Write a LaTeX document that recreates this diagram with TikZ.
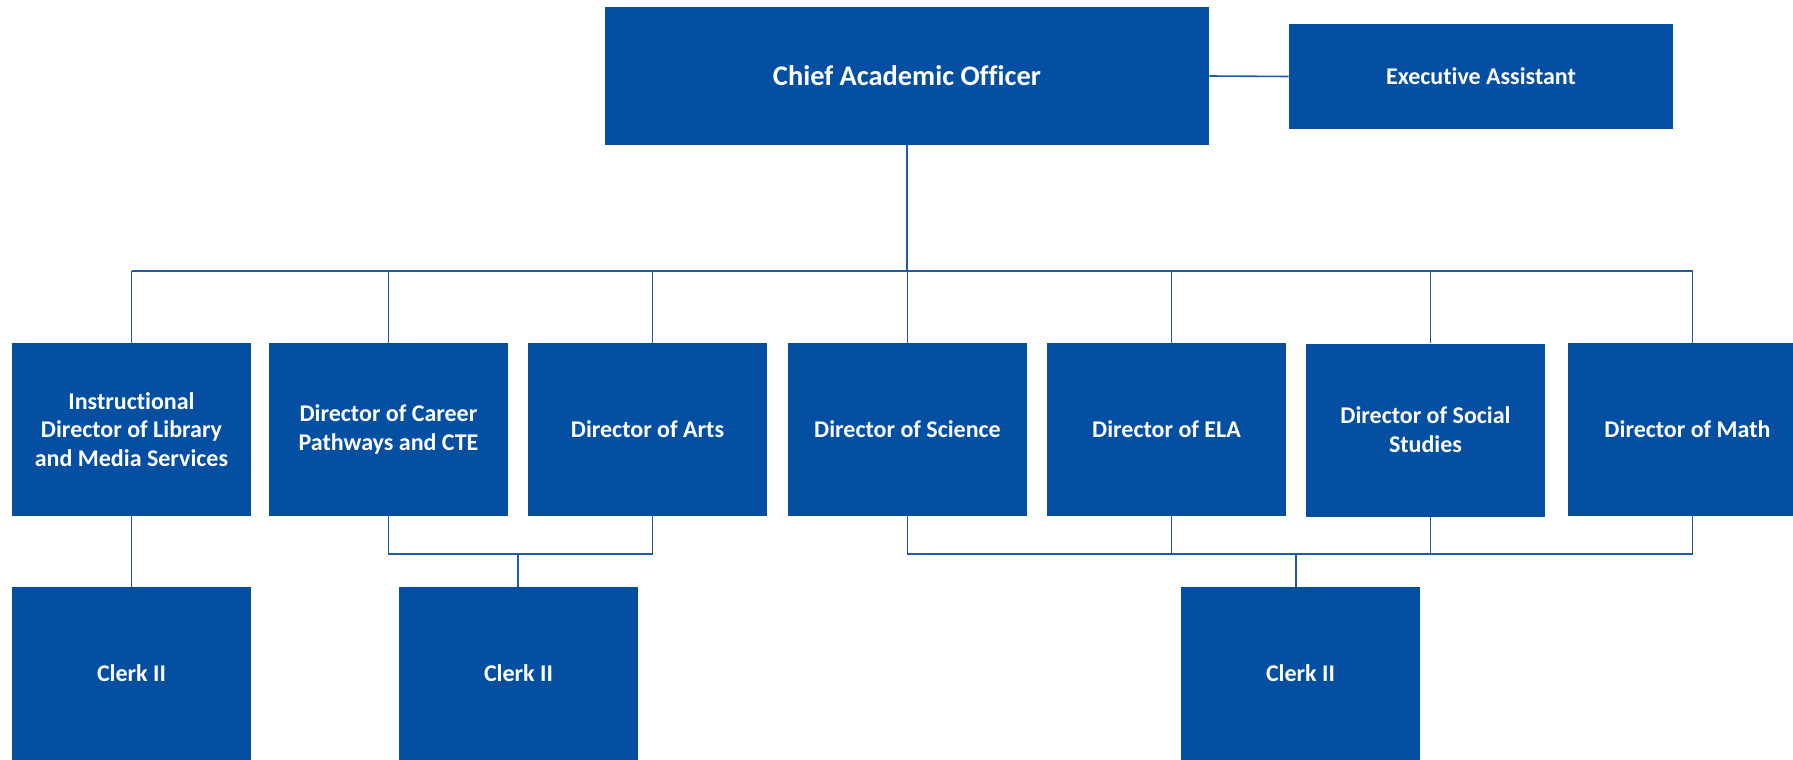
\documentclass[tikz,border=0pt]{standalone}
\usepackage{fontspec}
\setmainfont{Carlito}[Ligatures=NoCommon]
\definecolor{boxblue}{RGB}{4,79,162}
\definecolor{lineblue}{RGB}{30,90,170}
\begin{document}
\begin{tikzpicture}[x=0.5pt,y=-0.5pt,
    box/.style={fill=boxblue,text=white,font=\bfseries\fontsize{12}{14.4}\selectfont,
      align=center,inner sep=0pt,minimum width=119.5pt,minimum height=86.5pt},
    link/.style={draw=lineblue,line width=0.8pt}]
    \useasboundingbox (0,0) rectangle (1793,760);
    \node[box,minimum width=302pt,minimum height=69pt,font=\bfseries\fontsize{14.2}{17}\selectfont](cao) at (907,76) {Chief Academic Officer};
    \node[box,minimum width=192pt,minimum height=52.5pt](ea) at (1481,76.5) {Executive Assistant};
    \node[box](d1) at (131.5,429.5) {Instructional\\Director of Library\\and Media Services};
    \node[box](d2) at (388.5,429.5) {Director of Career\\Pathways and CTE};
    \node[box](d3) at (647.5,429.5) {Director of Arts};
    \node[box](d4) at (907.5,429.5) {Director of Science};
    \node[box](d5) at (1166.5,429.5) {Director of ELA};
    \node[box](d6) at (1425.5,430) {Director of Social\\Studies};
    \node[box](d7) at (1687.5,429.5) {Director of Math};
    \node[box](c1) at (131.5,673.5) {Clerk II};
    \node[box](c2) at (518.5,673.5) {Clerk II};
    \node[box](c3) at (1300.5,673.5) {Clerk II};
    \coordinate (top) at (907,271);
    \coordinate (left) at (518,554);
    \coordinate (right) at (1296,554);
    \draw[link] (cao.east)--(ea.west);
    \draw[link] (cao.south)--(top);
    % drops from the bus, some a little right of centre
    \foreach \d/\s in {d1/0,d2/0,d3/2.5,d4/0,d5/2.5,d6/2.5,d7/2.5}
      \draw[link] ([xshift=\s]top-|\d.north)--([xshift=\s]\d.north);
    \draw[link] (top-|d1.north)--([xshift=2.5]top-|d7.north);
    \draw[link] (d1.south)--(c1.north);
    \draw[link] (d2.south)--(left-|d2.south)--([xshift=2.5]left-|d3.south)--([xshift=2.5]d3.south);
    \draw[link] (left)--(left|-c2.north);
    \draw[link] (d4.south)--(right-|d4.south)--([xshift=2.5]right-|d7.south)--([xshift=2.5]d7.south);
    \foreach \d in {d5,d6}
      \draw[link] ([xshift=2.5]\d.south)--([xshift=2.5]right-|\d.south);
    \draw[link] (right)--(right|-c3.north);
    \end{tikzpicture}
\end{document}
